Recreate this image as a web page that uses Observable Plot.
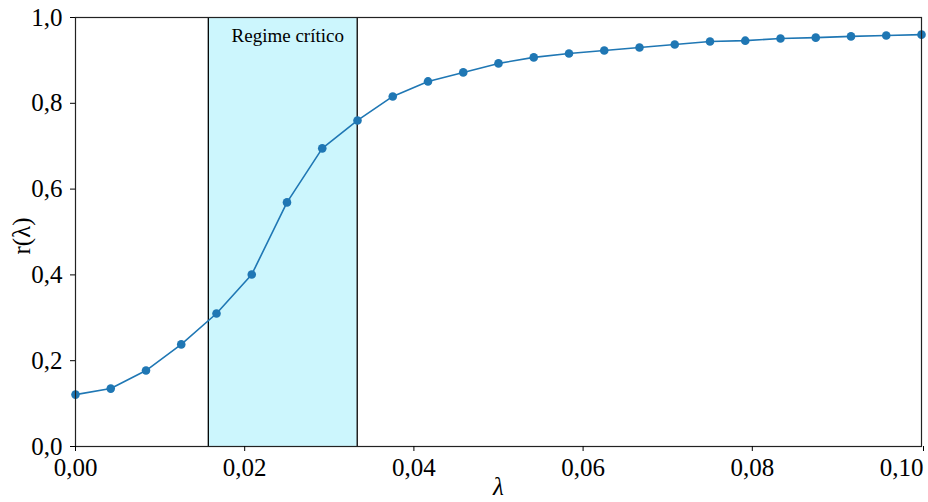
<!DOCTYPE html>
<html><head><meta charset="utf-8">
<script src="https://cdn.jsdelivr.net/npm/d3@7"></script>
<script src="https://cdn.jsdelivr.net/npm/@observablehq/plot@0.6"></script>
<style>
body{margin:0;background:#fff;}
</style></head><body><div id="chart"></div>
<script>
const lambdas = [0,0.0041667,0.0083333,0.0125,0.0166667,0.0208333,0.025,0.0291667,0.0333333,0.0375,0.0416667,0.0458333,0.05,0.0541667,0.0583333,0.0625,0.0666667,0.0708333,0.075,0.0791667,0.0833333,0.0875,0.0916667,0.0958333,0.1];
const rValues = [0.121,0.135,0.177,0.238,0.310,0.401,0.569,0.695,0.760,0.816,0.851,0.872,0.893,0.907,0.916,0.923,0.930,0.937,0.944,0.946,0.951,0.953,0.956,0.958,0.960];
const regimeBounds = [0.0157, 0.0333];
const regimeLabel = "Regime crítico";
const xTicks = [0,0.02,0.04,0.06,0.08];
const xLastTick = [0.10];
const yTicks = [0,0.2,0.4,0.6,0.8,1.0];

const data = lambdas.map((l,i)=>({l, r:rValues[i]}));
const FF = '"Liberation Serif", "Times New Roman", serif';
const fx = d=>d.toFixed(2).replace(".",",");
const fy = d=>d.toFixed(1).replace(".",",");

const plot = Plot.plot({
  width: 928, height: 502,
  marginLeft: 75, marginRight: 7, marginTop: 17, marginBottom: 56,
  style: `font-family:${FF};font-size:25px;color:#000;background:#fff;overflow:visible;`,
  x:{domain:[0,0.1], label:null},
  y:{domain:[0,1], label:null},
  marks:[
    Plot.rect([{x1:regimeBounds[0], x2:regimeBounds[1]}], {x1:"x1", x2:"x2", y1:0, y2:1, fill:"#ccf6fd"}),
    Plot.ruleX(regimeBounds, {stroke:"#000", strokeWidth:1.3}),
    Plot.text([regimeLabel], {x:(regimeBounds[0]+regimeBounds[1])/2, y:1, text:d=>d, dy:18, dx:5, fontSize:19, fontFamily:FF, fill:"#000"}),
    Plot.line(data, {x:"l", y:"r", stroke:"#1f77b4", strokeWidth:1.6}),
    Plot.dot(data, {x:"l", y:"r", r:4.3, fill:"#1f77b4"}),
    Plot.frame({stroke:"#222", strokeWidth:1.2}),
    Plot.axisX({ticks:xTicks, tickFormat:fx, label:null, fontSize:25, fontFamily:FF, tickSize:5, tickPadding:7}),
    Plot.axisX({ticks:xLastTick, tickFormat:fx, label:null, fontSize:25, fontFamily:FF, tickSize:5, tickPadding:7, textAnchor:"end", dx:2}),
    Plot.axisY({ticks:yTicks, tickFormat:fy, label:null, fontSize:25, fontFamily:FF, tickSize:5, tickPadding:8}),
    Plot.text(["λ"], {frameAnchor:"bottom", dy:48, text:d=>d, fontSize:25, fontStyle:"italic", fontFamily:FF}),
    Plot.text(["r(λ)"], {frameAnchor:"left", dx:-54, dy:4, rotate:-90, textAnchor:"middle", text:d=>d, fontSize:25, fontFamily:FF})
  ]
});
document.getElementById("chart").appendChild(plot);
</script></body></html>
